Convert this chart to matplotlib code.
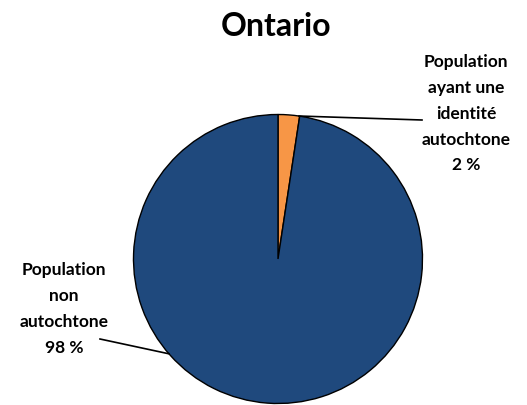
import matplotlib
matplotlib.use("Agg")
import matplotlib.pyplot as plt
import numpy as np

titre = "Ontario"
etiquettes = ["Population\nayant une\nidentité\nautochtone\n2 %",
              "Population\nnon\nautochtone\n98 %"]
parts = [2.4, 97.6]
couleurs = ["#F79646", "#1F497D"]

plt.rcParams['font.family'] = ['Lato', 'DejaVu Sans']

fig = plt.figure(figsize=(5.27, 4.06), dpi=100)
ax = fig.add_axes([0, 0, 1, 1])

centre = (278, 146)
rayon = 144.5
wedges, _ = ax.pie(parts, colors=couleurs, startangle=90, counterclock=False,
                   center=centre, radius=rayon, frame=True,
                   wedgeprops=dict(edgecolor='black', linewidth=1))
ax.set_xlim(0, 527)
ax.set_ylim(0, 406)
ax.axis('off')

ax.text(276, 406 - 27, titre, ha='center', va='center', fontsize=23, fontweight='bold')

# lignes de rappel
def point_bord(angle):
    a = np.deg2rad(angle)
    return centre[0] + rayon * np.cos(a), centre[1] + rayon * np.sin(a)

x0, y0 = point_bord(wedges[0].theta1 + 0.3)
ax.plot([x0, 422], [y0, 406 - 121], color='black', lw=1.2)
ax.text(466, 406 - 114, etiquettes[0], ha='center', va='center', fontsize=12.5,
        fontweight='bold', linespacing=1.75)

x1, y1 = point_bord(221)
ax.plot([x1, 100], [y1, 406 - 340], color='black', lw=1.2)
ax.text(64, 406 - 309, etiquettes[1], ha='center', va='center', fontsize=12.5,
        fontweight='bold', linespacing=1.75)

fig.savefig("out.png", dpi=100)
